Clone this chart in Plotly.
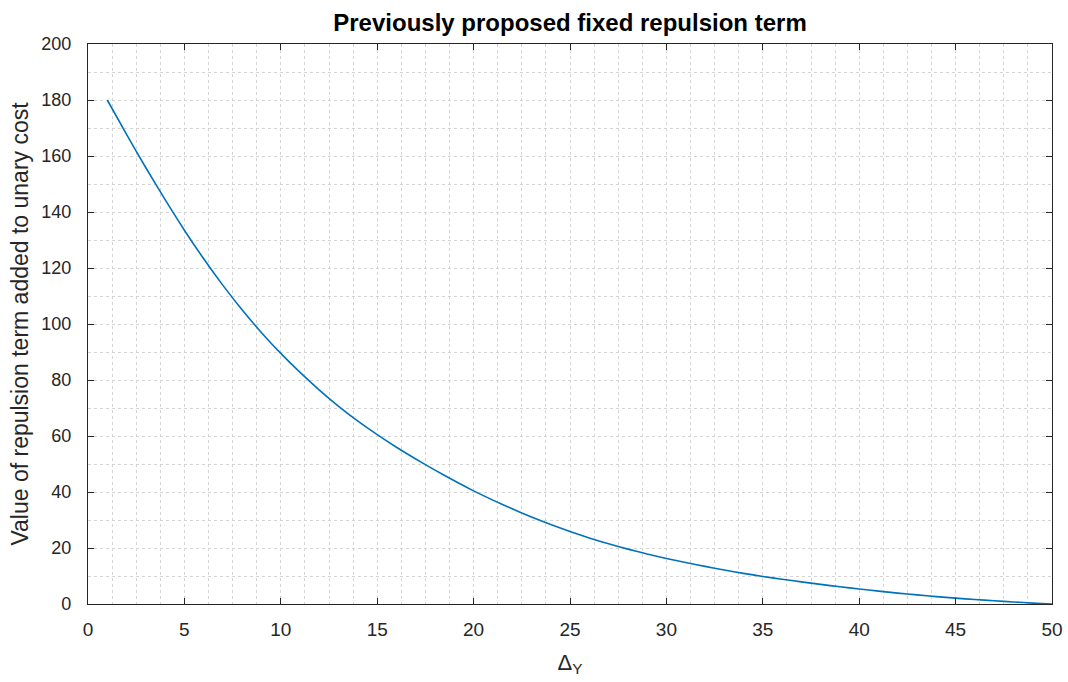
import plotly.graph_objects as go

# Data
delta_y = list(range(1, 51))
repulsion = [180, 167.7, 155.8, 144.4, 133.5, 123.3, 113.8, 105.0, 96.9, 89.5,
             82.7, 76.4, 70.6, 65.3, 60.5, 56.0, 51.8, 47.8, 44.0, 40.4,
             37.1, 34.0, 31.1, 28.4, 25.9, 23.6, 21.5, 19.6, 17.85, 16.25,
             14.8, 13.45, 12.15, 10.95, 9.85, 8.85, 7.9, 7.0, 6.15, 5.35,
             4.6, 3.9, 3.25, 2.65, 2.1, 1.6, 1.15, 0.73, 0.33, 0]

x_ticks = [0, 5, 10, 15, 20, 25, 30, 35, 40, 45, 50]
y_ticks = [0, 20, 40, 60, 80, 100, 120, 140, 160, 180, 200]

title_text = "<b>Previously proposed fixed repulsion term</b>"
x_title = "Δ<sub>Y</sub>"
y_title = "Value of repulsion term added to unary cost"

FONT = "Liberation Sans, Arial, Helvetica, sans-serif"
AX = "#262626"
GRID = "#d4d4d4"

fig = go.Figure()
fig.add_trace(go.Scatter(x=delta_y, y=repulsion, mode="lines",
                         line=dict(color="#0072BD", width=1.6, shape="spline", smoothing=0.6),
                         showlegend=False, hoverinfo="x+y"))

common = dict(showline=True, linecolor=AX, linewidth=1.2, mirror="ticks",
              ticks="inside", ticklen=6, tickwidth=1.2, tickcolor=AX,
              showgrid=True, gridcolor=GRID, griddash="3px,3px", gridwidth=1,
              zeroline=False)

fig.update_xaxes(range=[0, 50], tickmode="array", tickvals=x_ticks,
                 ticktext=[str(v) for v in x_ticks], automargin=False,
                 tickfont=dict(family=FONT, size=19, color=AX), ticklabelstandoff=8,
                 minor=dict(dtick=1.25, showgrid=True, gridcolor=GRID, griddash="3px,3px",
                            gridwidth=1, ticks=""),
                 title=dict(text=x_title, font=dict(family=FONT, size=22, color=AX)),
                 **common)
fig.update_yaxes(range=[0, 200], tickmode="array", tickvals=y_ticks,
                 ticktext=[str(v) for v in y_ticks], automargin=True,
                 tickfont=dict(family=FONT, size=18, color=AX), ticklabelstandoff=12,
                 minor=dict(dtick=10, showgrid=True, gridcolor=GRID, griddash="3px,3px",
                            gridwidth=1, ticks=""),
                 title=dict(text=y_title, font=dict(family=FONT, size=23, color=AX), standoff=6),
                 **common)

fig.update_layout(
    width=1068, height=682,
    margin=dict(l=88, r=16, t=44, b=78),
    paper_bgcolor="white", plot_bgcolor="white",
    title=dict(text=title_text, x=0.5, xref="paper", y=1 - 23 / 682, yanchor="middle",
               font=dict(family=FONT, size=24, color="#000000")),
)

fig.write_html("out.html")
